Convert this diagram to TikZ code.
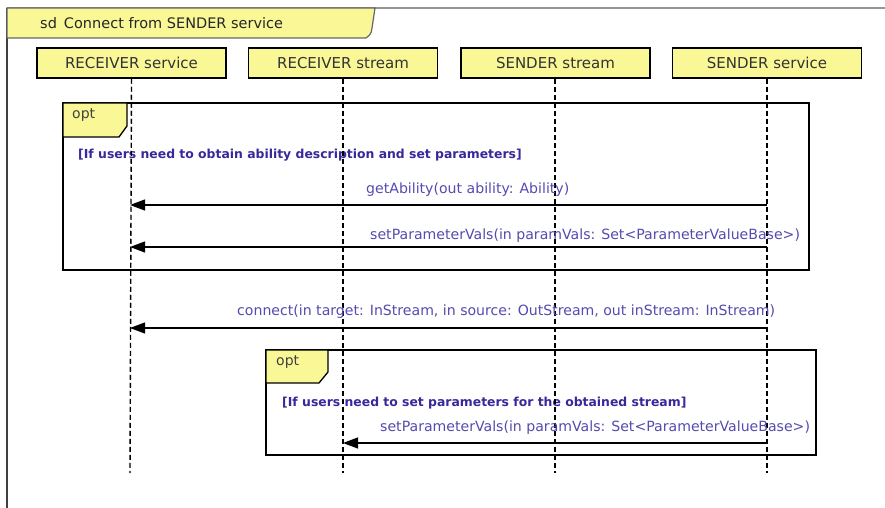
\documentclass[tikz,border=0pt]{standalone}
\usepackage{fontspec}
\setmainfont{DejaVu Sans}
\usetikzlibrary{arrows.meta}
\definecolor{tabyellow}{RGB}{250,248,150}
\definecolor{msgblue}{RGB}{85,75,175}
\definecolor{guardblue}{RGB}{55,40,155}
\definecolor{framegray}{RGB}{150,150,150}
\begin{document}
\begin{tikzpicture}[x=1pt,y=-1pt,
  headbox/.style={draw, line width=1.5pt, fill=tabyellow, minimum width=189pt, minimum height=30pt, inner sep=0pt, font=\fontsize{15}{17}\selectfont, text=black!80},
  lifeline/.style={line width=1.4pt, dash pattern=on 5pt off 3pt},
  frameline/.style={line width=1.3pt},
  msg/.style={line width=1.2pt, -{Triangle[length=15pt,width=11pt]}},
  msglabel/.style={anchor=west, inner sep=0pt, text=msgblue, font=\fontsize{14.1}{16}\selectfont},
  guard/.style={anchor=west, inner sep=0pt, text=guardblue, font=\bfseries\fontsize{12.4}{15}\selectfont},
  optlabel/.style={anchor=west, inner sep=0pt, text=black!75, font=\fontsize{14}{16}\selectfont}]
\useasboundingbox[fill=white] (0,0) rectangle (885,508);
% outer sd frame
\draw[framegray, line width=2pt] (7,8) -- (885,8);
\draw[black!75, line width=1.5pt] (7,8) -- (7,508);
\draw[fill=tabyellow, draw=black!60, line width=1.2pt] (7,8) -- (375,8) -- (372,28) .. controls (371,34) .. (366,38) -- (7,38) -- cycle;
\node[anchor=west, inner sep=0pt, font=\fontsize{14.5}{17}\selectfont, text=black!85] (title) at (40,23) {sd\, Connect from SENDER service};
% lifeline heads
\node[headbox] (rsv) at (131.5,63) {RECEIVER service};
\node[headbox] (rst) at (343,63) {RECEIVER stream};
\node[headbox] (sst) at (555.5,63) {SENDER stream};
\node[headbox] (ssv) at (767,63) {SENDER service};
\coordinate (rsvEnd) at (130,473);
\coordinate (rstEnd) at (343,473);
\coordinate (sstEnd) at (555,473);
\coordinate (ssvEnd) at (767,473);
% opt frame 1
\draw[frameline] (63,103) rectangle (809,270);
\draw[frameline, fill=tabyellow] (63,103) -- (127,103) -- (127,126) -- (119,137) -- (63,137) -- cycle;
\node[optlabel] (opt1) at (72,115) {opt};
\node[guard] (g1) at (78,155) {[If users need to obtain ability description and set parameters]};
% opt frame 2
\draw[frameline] (266,350) rectangle (816,455);
\draw[frameline, fill=tabyellow] (266,350) -- (328,350) -- (328,372) -- (319,383) -- (266,383) -- cycle;
\node[optlabel] (opt2) at (276,362) {opt};
\node[guard] (g2) at (282,403) {[If users need to set parameters for the obtained stream]};
% lifelines
\draw[lifeline] (rsv.south) -- (rsvEnd);
\draw[lifeline] (rst.south) -- (rstEnd);
\draw[lifeline] (sst.south -| sstEnd) -- (sstEnd);
\draw[lifeline] (ssv.south) -- (ssvEnd);
% messages
\coordinate (m1s) at (767,205); \coordinate (m1e) at (130,205);
\coordinate (m2s) at (767,247); \coordinate (m2e) at (130,247);
\coordinate (m3s) at (767,328); \coordinate (m3e) at (130,328);
\coordinate (m4s) at (767,443); \coordinate (m4e) at (343,443);
\draw[msg] (m1s) -- (m1e);
\draw[msg] (m2s) -- (m2e);
\draw[msg] (m3s) -- (m3e);
\draw[msg] (m4s) -- (m4e);
\node[msglabel] (l1) at (366,190) {getAbility(out ability: Ability)};
\node[msglabel] (l2) at (370,236) {setParameterVals(in paramVals: Set<ParameterValueBase>)};
\node[msglabel] (l3) at (237,312) {connect(in target: InStream, in source: OutStream, out inStream: InStream)};
\node[msglabel] (l4) at (380,428) {setParameterVals(in paramVals: Set<ParameterValueBase>)};
\end{tikzpicture}
\end{document}
